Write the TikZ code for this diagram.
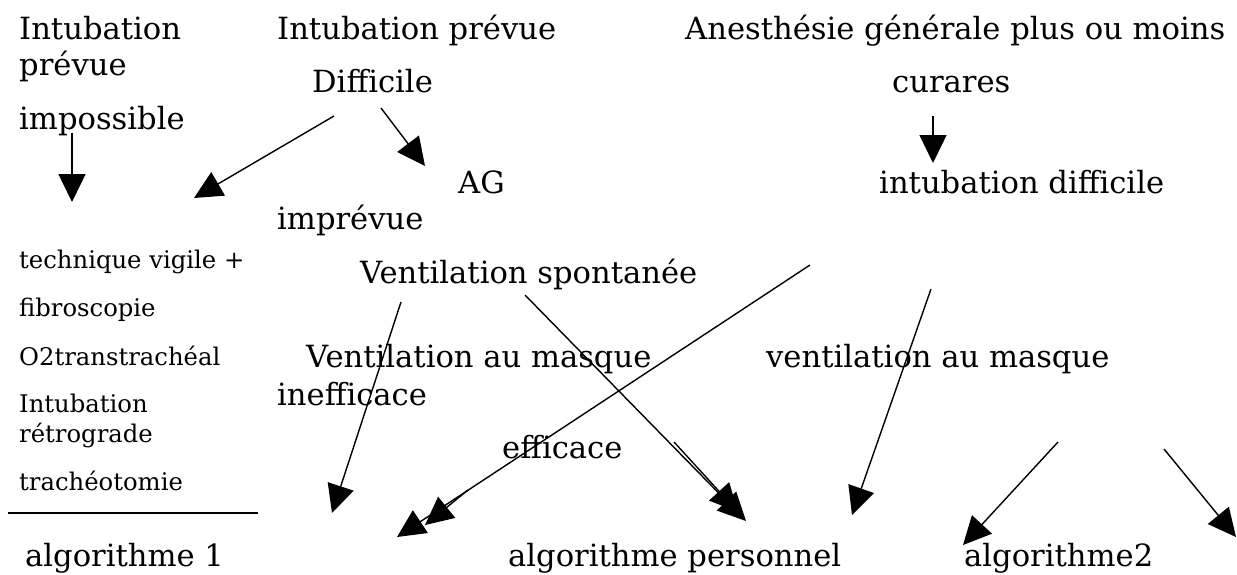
\documentclass[tikz,border=0pt]{standalone}
\usepackage{fontspec}
\setmainfont{DejaVu Serif}
\usetikzlibrary{arrows.meta}
\begin{document}
\begin{tikzpicture}[x=1pt,y=-1pt,
  big/.style={anchor=base west, inner sep=0pt, font=\fontsize{30.6}{34}\selectfont},
  small/.style={anchor=base west, inner sep=0pt, font=\fontsize{24.3}{27}\selectfont},
  flow/.style={line width=1.4pt, -{Triangle[length=28pt,width=27pt]}},
  rule/.style={line width=2pt}]
\useasboundingbox (0,0) rectangle (1237,574);

% left column: planned impossible intubation
\node[big] (t1) at (19,39) {Intubation};
\node[big] (t2) at (19,75) {prévue};
\node[big] (t3) at (19,129) {impossible};
\node[small] (s1) at (19,268) {technique vigile +};
\node[small] (s2) at (19,316) {fibroscopie};
\node[small] (s3) at (19,365) {O2transtrachéal};
\node[small] (s4) at (19,412) {Intubation};
\node[small] (s5) at (19,442) {rétrograde};
\node[small] (s6) at (19,490) {trachéotomie};
\node[big] (alg1) at (25,566) {algorithme 1};

% middle column: planned difficult intubation
\node[big] (m1) at (277,39) {Intubation prévue};
\node[big] (m2) at (312,92) {Difficile};
\node[big] (m3) at (458,193) {AG};
\node[big] (m4) at (277,229) {imprévue};
\node[big] (m5) at (360,283) {Ventilation spontanée};
\node[big] (m6) at (306,367) {Ventilation au masque};
\node[big] (m7) at (277,405) {inefficace};
\node[big] (m8) at (502,458) {efficace};
\node[big] (algp) at (508,566) {algorithme personnel};

% right column: general anaesthesia
\node[big] (r1) at (685,39) {Anesthésie générale plus ou moins};
\node[big] (r2) at (892,92) {curares};
\node[big] (r3) at (879,193) {intubation difficile};
\node[big] (r4) at (766,367) {ventilation au masque};
\node[big] (alg2) at (964,566) {algorithme2};

% arrow end points
\coordinate (a1s) at (72,133);   \coordinate (a1e) at (72,202);
\coordinate (a2s) at (334,116);  \coordinate (a2e) at (194,198);
\coordinate (a3s) at (381,108);  \coordinate (a3e) at (425,166);
\coordinate (a4s) at (933,116);  \coordinate (a4e) at (933,163);
\coordinate (a5s) at (401,302);  \coordinate (a5e) at (332,513);
\coordinate (a6s) at (810,265);  \coordinate (a6e) at (397,537);
\coordinate (a7s) at (468,490);  \coordinate (a7e) at (425,525);
\coordinate (a8s) at (525,295);  \coordinate (a8e) at (746,521);
\coordinate (a9s) at (674,442);  \coordinate (a9e) at (738,512);
\coordinate (a10s) at (931,289); \coordinate (a10e) at (852,515);
\coordinate (a11s) at (1058,442); \coordinate (a11e) at (963,545);
\coordinate (a12s) at (1164,449); \coordinate (a12e) at (1236,537);
\coordinate (l1) at (8,513);     \coordinate (l2) at (258,513);

\draw[flow] (a1s) -- (a1e);
\draw[flow] (a2s) -- (a2e);
\draw[flow] (a3s) -- (a3e);
\draw[flow] (a4s) -- (a4e);
\draw[flow] (a5s) -- (a5e);
\draw[flow] (a6s) -- (a6e);
\draw[flow] (a7s) -- (a7e);
\draw[flow] (a8s) -- (a8e);
\draw[flow] (a9s) -- (a9e);
\draw[flow] (a10s) -- (a10e);
\draw[flow] (a11s) -- (a11e);
\draw[flow] (a12s) -- (a12e);
\draw[rule] (l1) -- (l2);
\end{tikzpicture}
\end{document}
